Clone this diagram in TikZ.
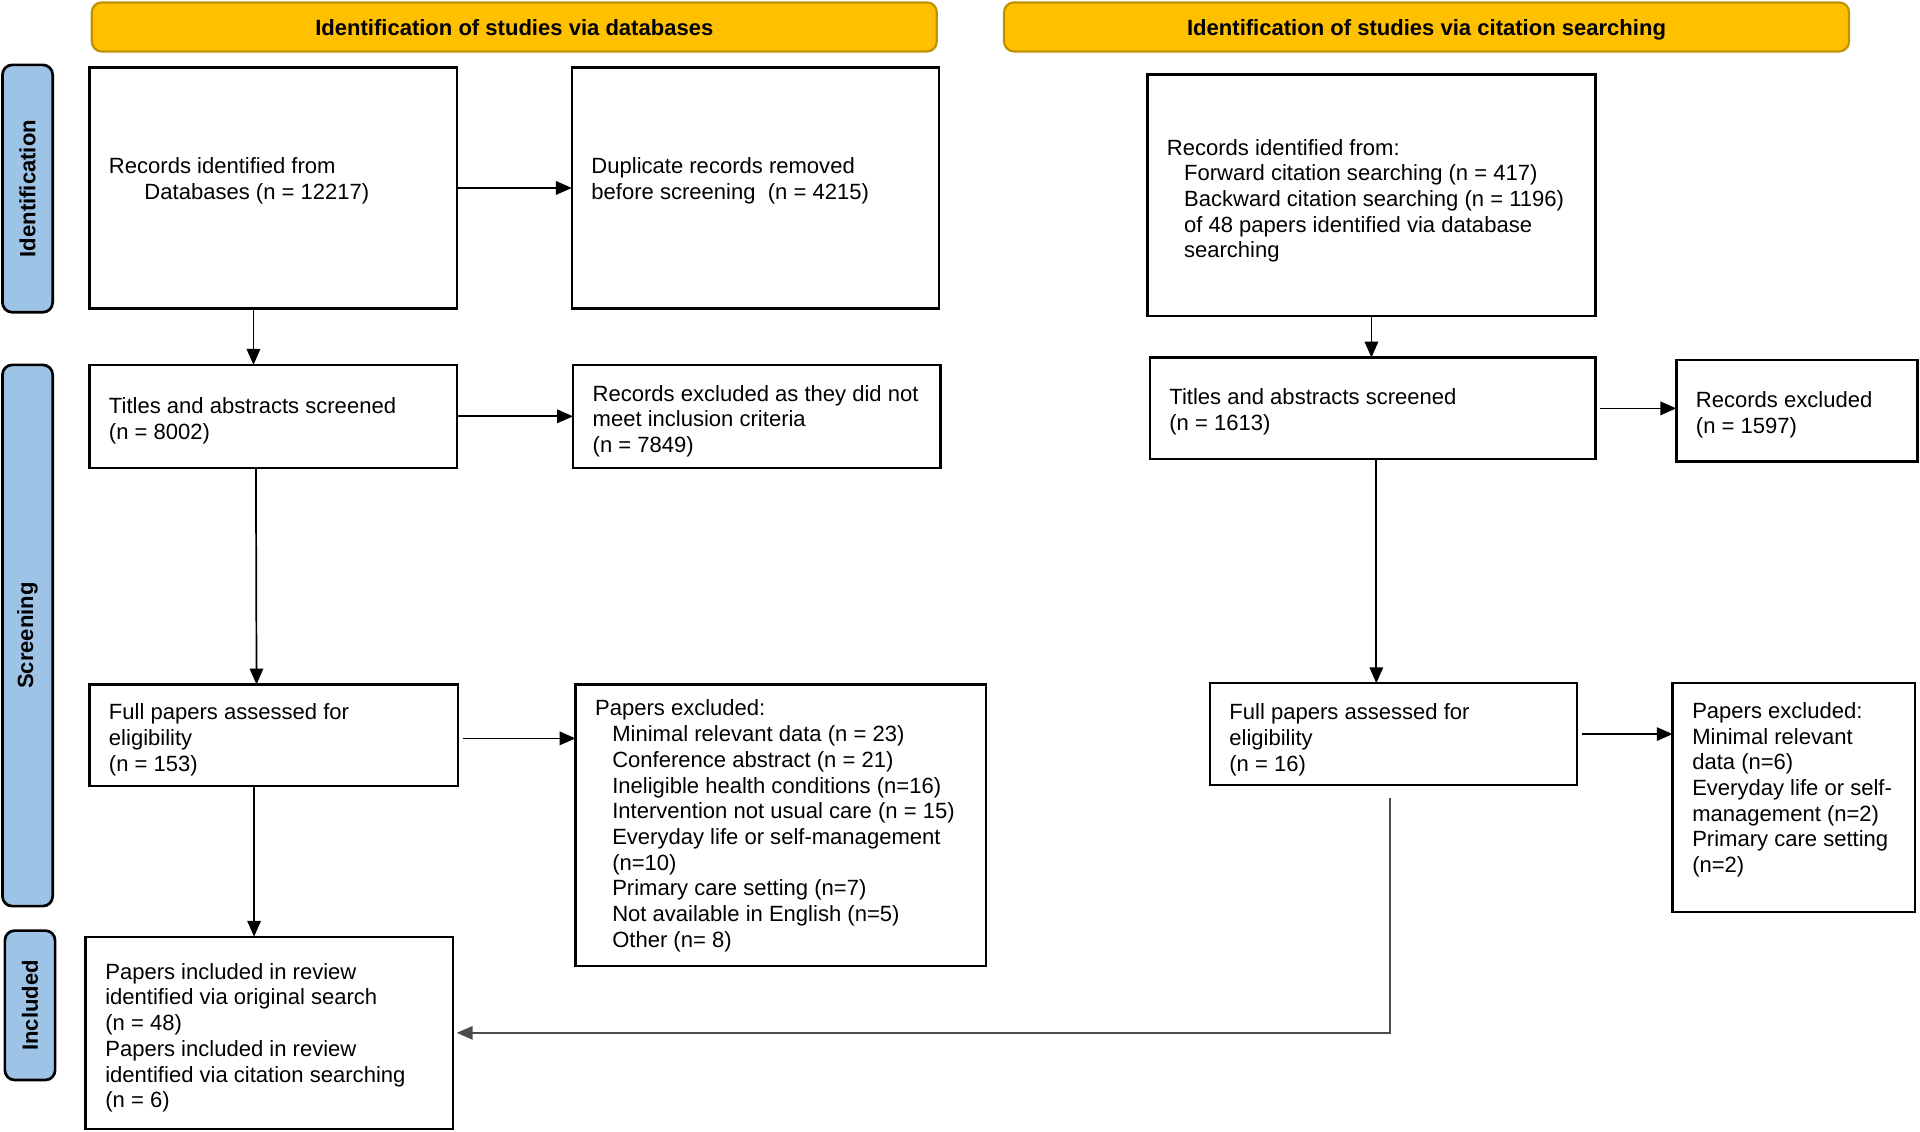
\documentclass[tikz,border=0pt]{standalone}
\usepackage{fontspec}
\setmainfont{Liberation Sans}
\usetikzlibrary{arrows.meta,calc}
\definecolor{hdrfill}{HTML}{FFC000}
\definecolor{hdrline}{HTML}{BF9000}
\definecolor{sidefill}{HTML}{9DC3E6}
\newcommand\tbox[7]{%
  \node[tb, anchor=north west] (#1) at (#2,#3)
  {\parbox[t][\dimexpr(#5pt-#3pt)/2\relax][t]{\dimexpr(#4pt-#2pt)/2-16pt\relax}%
   {\vspace*{\dimexpr #6pt+1.5pt\relax}\begin{tabular}[t]{@{}l@{}}#7\end{tabular}}};}
\newcommand\ind{\hspace*{7pt}}
\begin{document}
\begin{tikzpicture}[x=0.5pt,y=-0.5pt,
  every node/.style={font=\fontsize{9}{10.5}\selectfont},
  tb/.style={draw=black, line width=1pt, inner xsep=8pt, inner ysep=0pt, outer sep=0pt, fill=white},
  hdr/.style={draw=hdrline, fill=hdrfill, line width=0.9pt, rounded corners=4pt,
    minimum width=345pt, minimum height=20pt, inner sep=0pt, text height=7pt, text depth=0pt,
    font=\fontsize{9}{10.5}\selectfont\bfseries},
  side/.style={draw=black, fill=sidefill, line width=1.1pt, rounded corners=4pt,
    minimum width=20.5pt, inner sep=0pt, font=\fontsize{9}{10.5}\selectfont\bfseries},
  arr/.style={-{Triangle[length=6.5pt,width=5.5pt]}, line width=0.7pt, draw=black},
  garr/.style={-{Triangle[length=6.5pt,width=5.5pt]}, line width=0.7pt, draw=black!70}]
\useasboundingbox (0,0) rectangle (1568,924);

% headers
\node[hdr] (h1) at (420,22) {Identification of studies via databases};
\node[hdr] (h2) at (1165,22) {Identification of studies via citation searching};

% side labels
\node[side, minimum height=101pt] (s1) at (22.5,154) {\rotatebox{90}{Identification}};
\node[side, minimum height=221pt] (s2) at (22.5,519) {\rotatebox{90}{Screening}};
\node[side, minimum height=61pt] (s3) at (24.5,821) {\rotatebox{90}{Included}};

% boxes
\tbox{A}{73}{55}{373}{252}{34.5}{Records identified from\\\hspace*{14.5pt}Databases (n = 12217)}
\tbox{B}{467}{55}{767}{252}{34.5}{Duplicate records removed\\before screening~ (n = 4215)}
\tbox{C}{937}{61}{1303}{258}{24}{Records identified from:\\\ind Forward citation searching (n = 417)\\\ind Backward citation searching (n = 1196)\\\ind of 48 papers identified via database\\\ind searching}
\tbox{D}{939}{292}{1303}{375}{10.5}{Titles and abstracts screened\\(n = 1613)}
\tbox{E}{1369}{294}{1566}{377}{10.5}{Records excluded\\(n = 1597)}
\tbox{F}{73}{298}{373}{382}{11}{Titles and abstracts screened\\(n = 8002)}
\tbox{G}{468}{298}{768}{382}{6}{Records excluded as they did not\\meet inclusion criteria\\(n = 7849)}
\tbox{H}{73}{559}{374}{642}{5.5}{Full papers assessed for\\eligibility\\(n = 153)}
\tbox{I}{470}{559}{805}{789}{4}{Papers excluded:\\\ind Minimal relevant data (n = 23)\\\ind Conference abstract (n = 21)\\\ind Ineligible health conditions (n=16)\\\ind Intervention not usual care (n = 15)\\\ind Everyday life or self-management\\\ind (n=10)\\\ind Primary care setting (n=7)\\\ind Not available in English (n=5)\\\ind Other (n= 8)}
\tbox{J}{70}{765}{370}{922}{8.5}{Papers included in review\\identified via original search\\(n = 48)\\Papers included in review\\identified via citation searching\\(n = 6)}
\tbox{K}{988}{558}{1288}{641}{6}{Full papers assessed for\\eligibility\\(n = 16)}
\tbox{L}{1366}{558}{1564}{745}{5.5}{Papers excluded:\\Minimal relevant\\data (n=6)\\Everyday life or self-\\management (n=2)\\Primary care setting\\(n=2)}

% connectors
\draw[arr] (A.east) -- (B.west);
\draw[arr] (F.east) -- (G.west);
\draw[arr] ([xshift=2pt,yshift=-1.25pt]H.east) -- ([yshift=-1.25pt]I.west |- H.east);
\draw[arr] ([xshift=-8pt]A.south) -- ([xshift=-8pt]F.north);
\draw[arr] ([xshift=-7pt]F.south) -- ([xshift=-7pt]H.north);
\draw[arr] ([xshift=-8pt]H.south) -- ([xshift=-8pt]H.south |- J.north);
\draw[arr] (C.south) -- (C.south |- D.north);
\draw[arr] ([xshift=1.5pt]D.south) -- ([xshift=1.5pt]D.south |- K.north);
\draw[arr] ([xshift=2pt]D.east) -- (E.west |- D.east);
\draw[arr] ([xshift=2pt]K.east) -- (L.west |- K.east);
\coordinate (kgap) at ($(K.south)+(-3,11)$);
\draw[garr, shorten >=1.5pt] (kgap) |- (J.east);
\end{tikzpicture}
\end{document}
